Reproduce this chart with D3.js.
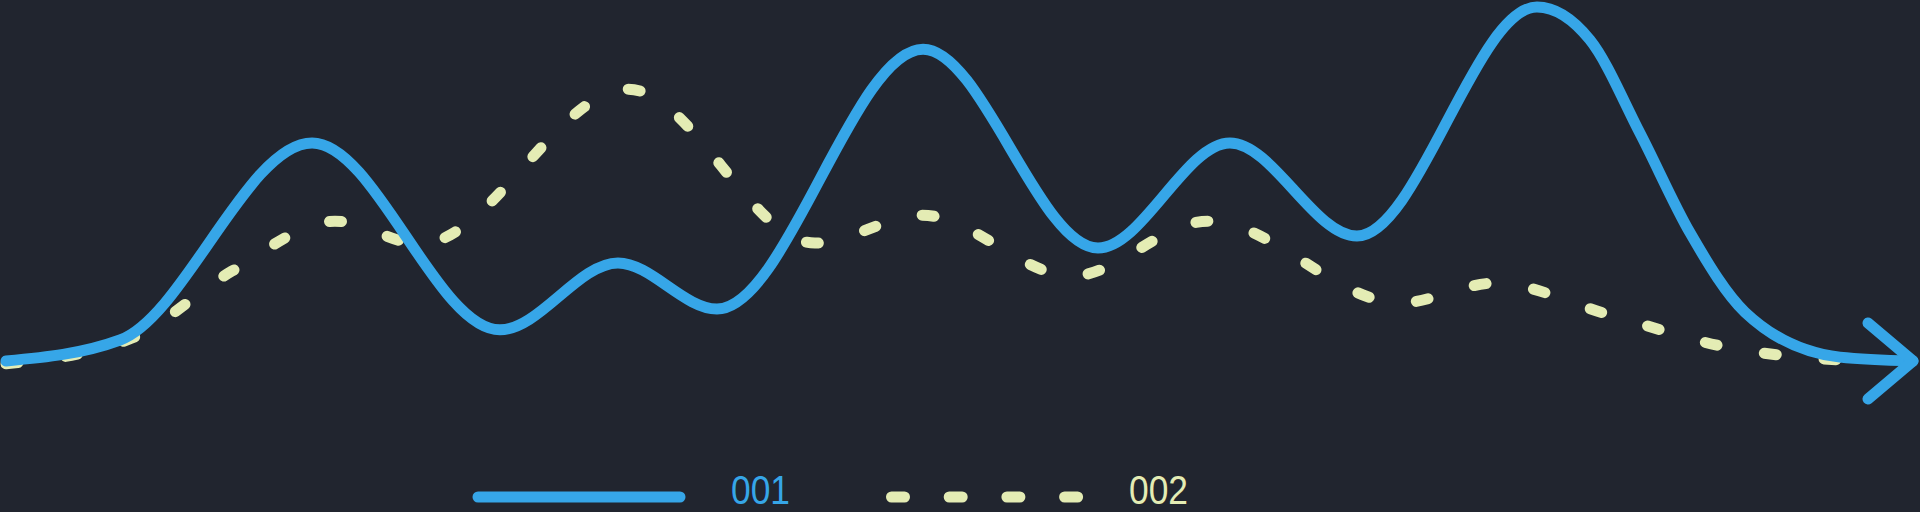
<!DOCTYPE html>
<html>
<head>
<meta charset="utf-8">
<script src="https://cdn.jsdelivr.net/npm/d3@7"></script>
<style>
  html, body { margin: 0; padding: 0; background: #21252f; overflow: hidden; }
</style>
</head>
<body>
<div id="chart"></div>
<script>
// Serie 001 (garis biru, solid)
const x001 = [0, 5.98, 16.05, 25.9, 32.09, 37.28, 48.09, 57.26, 64.18, 70.84, 80.28,
              83.06, 85.68, 88.31, 91.19, 96.17, 100];
const y001 = [0, 5.93, 61.6, 8.8, 27.7, 14.7, 88.1, 31.9, 61.6, 35.3, 100,
              90.7, 64.4, 36.2, 13.8, 1.1, 0];

// Serie 002 (garis kuning, putus-putus)
const x002 = [0, 6.61, 11.85, 17.25, 21.71, 32.62, 42.42, 48.03, 55.9, 63.03, 73.1, 78.08, 83.95, 90.14, 98.27];
const y002 = [-0.8, 6.5, 25.4, 39.5, 33.1, 76.8, 33.3, 41.2, 24.0, 39.5, 16.4, 22.0, 13.3, 4.0, -0.3];

const seriesNames = ["001", "002"];

const width = 1920;
const height = 512;
const blue = "#36a6e8";
const yellow = "#e4ecb4";
const lineWidth = 11;

const svg = d3.select("#chart")
    .append("svg")
    .attr("width", width)
    .attr("height", height)
    .style("display", "block")
    .style("background", "#21252f");

const xScale = d3.scaleLinear().domain([0, 100]).range([6, 1913]);
const yScale = d3.scaleLinear().domain([0, 100]).range([361, 7]);

// Kepala panah di ujung garis biru
svg.append("defs").append("marker")
    .attr("id", "arrow")
    .attr("markerUnits", "userSpaceOnUse")
    .attr("viewBox", "-55 -45 65 90")
    .attr("refX", 0)
    .attr("refY", 0)
    .attr("markerWidth", 65)
    .attr("markerHeight", 90)
    .attr("orient", "0")
    .style("overflow", "visible")
    .append("path")
    .attr("d", "M-45,-38L0,0L-45,38")
    .attr("fill", "none")
    .attr("stroke", blue)
    .attr("stroke-width", lineWidth)
    .attr("stroke-linecap", "round")
    .attr("stroke-linejoin", "round");

const line = d3.line()
    .x(d => xScale(d[0]))
    .y(d => yScale(d[1]))
    .curve(d3.curveMonotoneX);

const data001 = x001.map((x, i) => [x, y001[i]]);
const data002 = x002.map((x, i) => [x, y002[i]]);

// Garis kuning dulu, biru di atasnya
svg.append("path")
    .datum(data002)
    .attr("d", line)
    .attr("fill", "none")
    .attr("stroke", yellow)
    .attr("stroke-width", lineWidth)
    .attr("stroke-linecap", "round")
    .attr("stroke-dasharray", "12,48");

svg.append("path")
    .datum(data001)
    .attr("d", line)
    .attr("fill", "none")
    .attr("stroke", blue)
    .attr("stroke-width", lineWidth)
    .attr("stroke-linecap", "round")
    .attr("stroke-linejoin", "round")
    .attr("marker-end", "url(#arrow)");

// Legenda
const legendY = 497;
const legend = svg.append("g");

legend.append("line")
    .attr("x1", 478).attr("x2", 680)
    .attr("y1", legendY).attr("y2", legendY)
    .attr("stroke", blue)
    .attr("stroke-width", lineWidth)
    .attr("stroke-linecap", "round");

legend.append("line")
    .attr("x1", 891.5).attr("x2", 1078)
    .attr("y1", legendY).attr("y2", legendY)
    .attr("stroke", yellow)
    .attr("stroke-width", lineWidth)
    .attr("stroke-linecap", "round")
    .attr("stroke-dasharray", "13,44.7");

const labelX = [731, 1129];
const labelColor = [blue, yellow];

legend.selectAll("text")
    .data(seriesNames)
    .join("text")
    .attr("x", (d, i) => labelX[i])
    .attr("y", 504)
    .attr("fill", (d, i) => labelColor[i])
    .attr("font-family", "'Liberation Sans Narrow', 'Liberation Sans', Arial, sans-serif")
    .attr("font-size", 41)
    .attr("textLength", 59)
    .attr("lengthAdjust", "spacingAndGlyphs")
    .text(d => d);
</script>
</body>
</html>
